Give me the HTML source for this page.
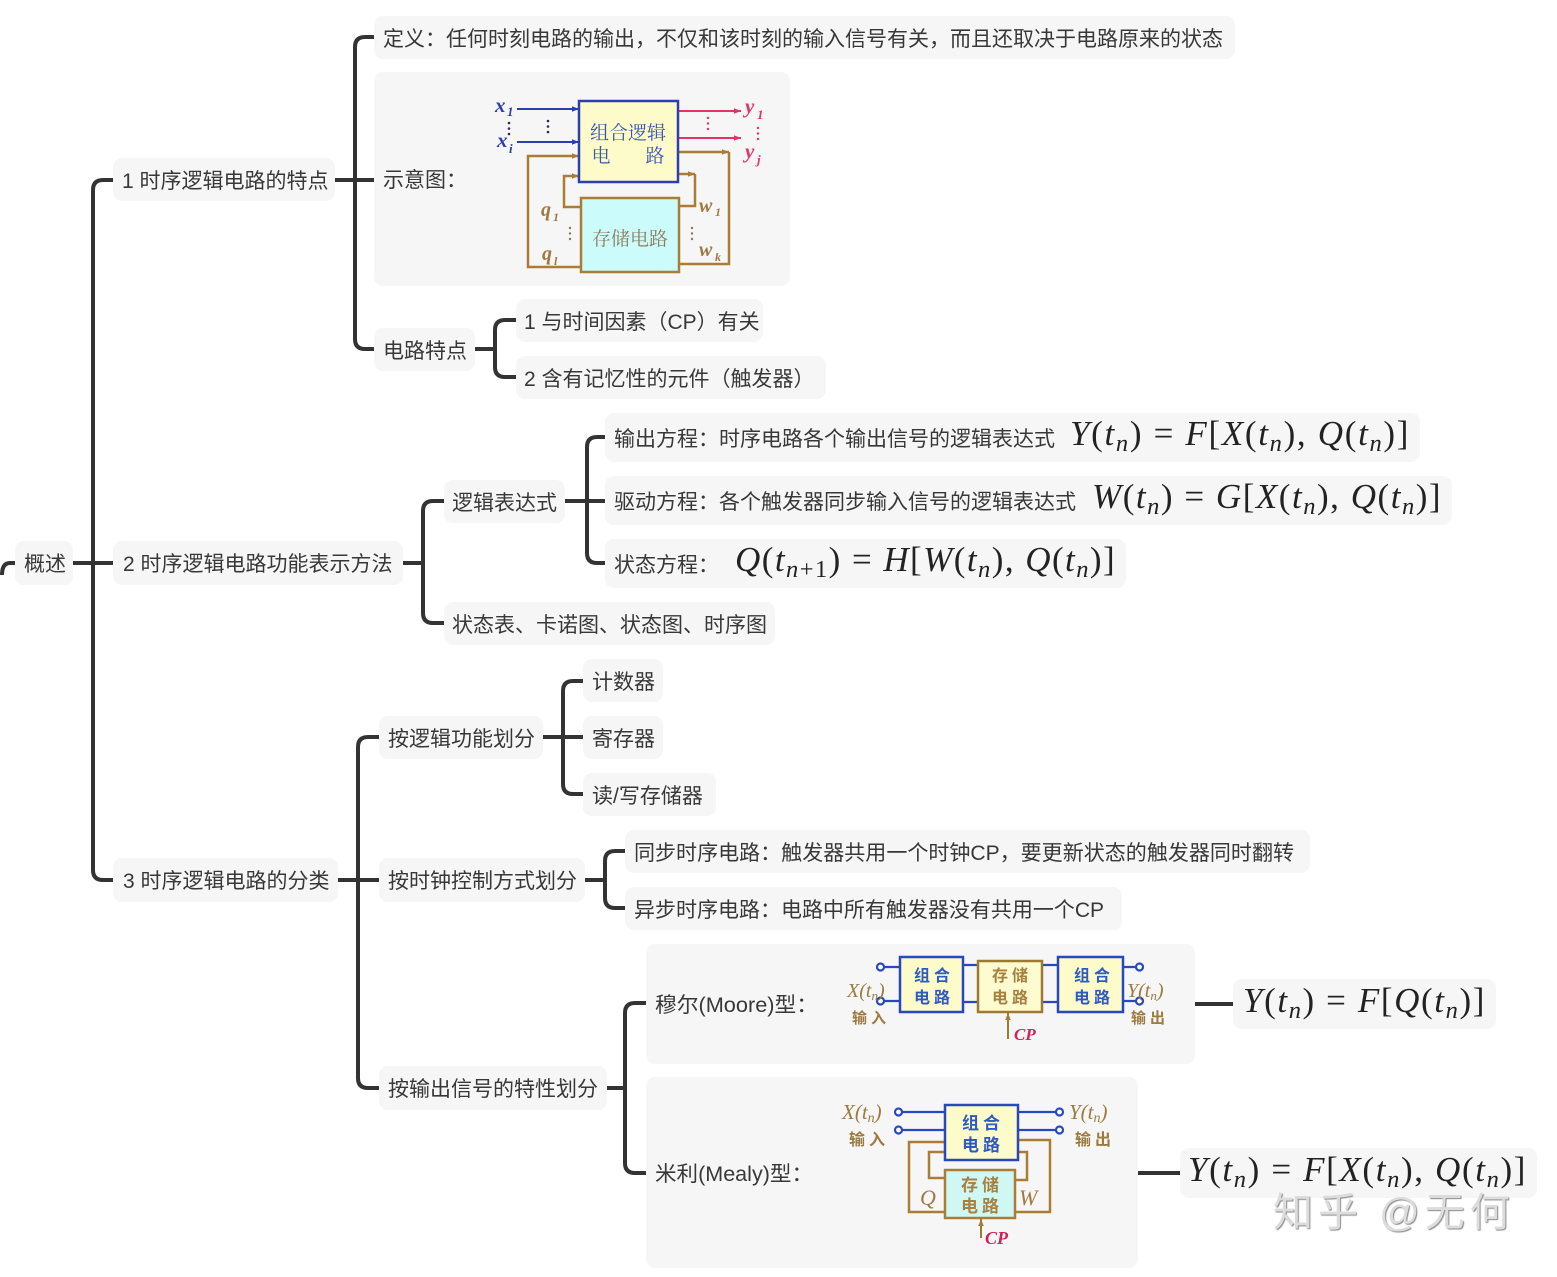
<!DOCTYPE html>
<html><head><meta charset="utf-8">
<style>
*{box-sizing:border-box}
body{margin:0;width:1557px;height:1277px;position:relative;background:#fff;overflow:hidden;font-family:"Liberation Sans","Noto Sans CJK SC",sans-serif;color:#383838}
.b{position:absolute;background:#f6f6f6;border-radius:9px;display:flex;align-items:center;padding-left:9px;font-size:21px;white-space:nowrap}
.ft{display:inline-block;transform-origin:0 50%}
.fm{position:absolute;font-family:"Liberation Serif",serif;font-size:35px;line-height:40px;white-space:nowrap;color:#222}
.fm sub{font-size:0.7em;vertical-align:-0.25em;line-height:0}
svg{position:absolute;left:0;top:0}
.wm{position:absolute;left:1273px;top:1190px;font-family:"Liberation Sans","Noto Sans CJK SC",sans-serif;font-size:40px;line-height:46px;letter-spacing:5px;color:#dcdcdc;text-shadow:1px 1px 1px #8a8a8a;white-space:nowrap}
</style></head><body>

<svg width="1557" height="1277" viewBox="0 0 1557 1277">
<g fill="none" stroke="#333" stroke-width="4">
<path d="M2 575Q2 563 10 563H15"/>
<path d="M73 563H113"/>
<path d="M113 180H103Q93 180 93 190V870Q93 880 103 880H113"/>
<path d="M335 180H374"/>
<path d="M374 37H365Q355 37 355 47V339Q355 349 365 349H374"/>
<path d="M475 349H495"/>
<path d="M516 320H505Q495 320 495 330V367Q495 377 505 377H516"/>
<path d="M403 563H423"/>
<path d="M444 501H433Q423 501 423 511V613Q423 623 433 623H444"/>
<path d="M565 501H605"/>
<path d="M605 437H597Q587 437 587 447V553Q587 563 597 563H605"/>
<path d="M338 880H379"/>
<path d="M379 737H368Q358 737 358 747V1078Q358 1088 368 1088H379"/>
<path d="M543 737H583"/>
<path d="M583 681H573Q563 681 563 691V784Q563 794 573 794H583"/>
<path d="M585 880H605"/>
<path d="M625 851H615Q605 851 605 861V898Q605 908 615 908H625"/>
<path d="M607 1088H625"/>
<path d="M646 1003H635Q625 1003 625 1013V1163Q625 1173 635 1173H646"/>
<path d="M1195 1004H1233"/>
<path d="M1138 1173H1180"/>
</g>
</svg>

<div class="b" style="left:15px;top:541px;width:58px;height:44px"><span class="ft">概述</span></div>
<div class="b" style="left:113px;top:158px;width:222px;height:43px"><span class="ft">1 时序逻辑电路的特点</span></div>
<div class="b" style="left:374px;top:16px;width:861px;height:43px"><span class="ft" style="--w:840">定义：任何时刻电路的输出，不仅和该时刻的输入信号有关，而且还取决于电路原来的状态</span></div>
<div class="b" style="left:374px;top:72px;width:416px;height:214px"><span class="ft">示意图：</span></div>
<div class="b" style="left:374px;top:328px;width:101px;height:43px"><span class="ft">电路特点</span></div>
<div class="b" style="left:516px;top:299px;width:247px;height:43px;padding-left:8px"><span class="ft">1 与时间因素（CP）有关</span></div>
<div class="b" style="left:516px;top:356px;width:310px;height:43px;padding-left:8px"><span class="ft">2 含有记忆性的元件（触发器）</span></div>
<div class="b" style="left:113px;top:541px;width:290px;height:44px;padding-left:10px"><span class="ft">2 时序逻辑电路功能表示方法</span></div>
<div class="b" style="left:444px;top:480px;width:121px;height:43px;padding-left:8px"><span class="ft">逻辑表达式</span></div>
<div class="b" style="left:444px;top:602px;width:331px;height:43px;padding-left:8px"><span class="ft">状态表、卡诺图、状态图、时序图</span></div>
<div class="b" style="left:605px;top:413px;width:815px;height:49px"><span class="ft">输出方程：时序电路各个输出信号的逻辑表达式</span></div>
<div class="b" style="left:605px;top:476px;width:847px;height:49px"><span class="ft">驱动方程：各个触发器同步输入信号的逻辑表达式</span></div>
<div class="b" style="left:605px;top:539px;width:521px;height:49px"><span class="ft">状态方程：</span></div>
<div class="b" style="left:113px;top:858px;width:225px;height:44px;padding-left:10px"><span class="ft">3 时序逻辑电路的分类</span></div>
<div class="b" style="left:379px;top:716px;width:164px;height:43px"><span class="ft">按逻辑功能划分</span></div>
<div class="b" style="left:583px;top:659px;width:80px;height:43px"><span class="ft">计数器</span></div>
<div class="b" style="left:583px;top:716px;width:80px;height:43px"><span class="ft">寄存器</span></div>
<div class="b" style="left:583px;top:773px;width:133px;height:43px"><span class="ft">读/写存储器</span></div>
<div class="b" style="left:379px;top:858px;width:206px;height:44px"><span class="ft">按时钟控制方式划分</span></div>
<div class="b" style="left:625px;top:830px;width:685px;height:43px"><span class="ft" style="--w:660">同步时序电路：触发器共用一个时钟CP，要更新状态的触发器同时翻转</span></div>
<div class="b" style="left:625px;top:887px;width:497px;height:43px"><span class="ft" style="--w:470">异步时序电路：电路中所有触发器没有共用一个CP</span></div>
<div class="b" style="left:379px;top:1066px;width:228px;height:44px"><span class="ft">按输出信号的特性划分</span></div>
<div class="b" style="left:646px;top:944px;width:549px;height:120px"><span class="ft" style="--w:163">穆尔(Moore)型：</span></div>
<div class="b" style="left:646px;top:1077px;width:492px;height:191px"><span class="ft" style="--w:158">米利(Mealy)型：</span></div>
<div class="b" style="left:1233px;top:979px;width:263px;height:50px"></div>
<div class="b" style="left:1180px;top:1148px;width:357px;height:50px"></div>

<div class="fm" style="left:1070px;top:414px;--w:340"><i>Y</i>(<i>t</i><sub><i>n</i></sub>) = <i>F</i>[<i>X</i>(<i>t</i><sub><i>n</i></sub>), <i>Q</i>(<i>t</i><sub><i>n</i></sub>)]</div>
<div class="fm" style="left:1092px;top:477px;--w:350"><i>W</i>(<i>t</i><sub><i>n</i></sub>) = <i>G</i>[<i>X</i>(<i>t</i><sub><i>n</i></sub>), <i>Q</i>(<i>t</i><sub><i>n</i></sub>)]</div>
<div class="fm" style="left:735px;top:540px;--w:381"><i>Q</i>(<i>t</i><sub><i>n</i>+1</sub>) = <i>H</i>[<i>W</i>(<i>t</i><sub><i>n</i></sub>), <i>Q</i>(<i>t</i><sub><i>n</i></sub>)]</div>
<div class="fm" style="left:1243px;top:981px;--w:243"><i>Y</i>(<i>t</i><sub><i>n</i></sub>) = <i>F</i>[<i>Q</i>(<i>t</i><sub><i>n</i></sub>)]</div>
<div class="fm" style="left:1188px;top:1150px;--w:339"><i>Y</i>(<i>t</i><sub><i>n</i></sub>) = <i>F</i>[<i>X</i>(<i>t</i><sub><i>n</i></sub>), <i>Q</i>(<i>t</i><sub><i>n</i></sub>)]</div>

<svg width="1557" height="1277" viewBox="0 0 1557 1277">
<defs>
<marker id="ab" viewBox="0 0 10 10" refX="10" refY="5" markerWidth="7" markerHeight="7" orient="auto" markerUnits="userSpaceOnUse"><path d="M0,1L10,5L0,9z" fill="#2b3eb2"/></marker>
<marker id="ap" viewBox="0 0 10 10" refX="10" refY="5" markerWidth="7" markerHeight="7" orient="auto" markerUnits="userSpaceOnUse"><path d="M0,1L10,5L0,9z" fill="#e23566"/></marker>
<marker id="aw" viewBox="0 0 10 10" refX="10" refY="5" markerWidth="7" markerHeight="7" orient="auto" markerUnits="userSpaceOnUse"><path d="M0,1L10,5L0,9z" fill="#a97d35"/></marker>
</defs>

<!-- top schematic -->
<g fill="none" stroke-width="2">
<line x1="517" y1="109" x2="579" y2="109" stroke="#2b3eb2" marker-end="url(#ab)"/>
<line x1="517" y1="142" x2="579" y2="142" stroke="#2b3eb2" marker-end="url(#ab)"/>
<line x1="678" y1="111" x2="741" y2="111" stroke="#e23566" marker-end="url(#ap)"/>
<line x1="678" y1="138" x2="741" y2="138" stroke="#e23566" marker-end="url(#ap)"/>
</g>
<g fill="none" stroke="#a97d35" stroke-width="2.5">
<path d="M581 267H528V156H579" marker-end="url(#aw)"/>
<path d="M581 207H564V176H579" marker-end="url(#aw)"/>
<path d="M678 174H695" marker-end="url(#aw)"/>
<path d="M695 174V206H679"/>
<path d="M678 152H729" marker-end="url(#aw)"/>
<path d="M729 152V264H679"/>
</g>
<rect x="579" y="101" width="99" height="81" fill="#fdfbc9" stroke="#2b3eb2" stroke-width="2.5"/>
<rect x="581" y="198" width="98" height="74" fill="#ccfbfb" stroke="#a97d35" stroke-width="2.5"/>
<g font-family="Noto Serif CJK SC,serif" font-size="19" fill="#3c56b0">
<text x="628" y="139" text-anchor="middle">组合逻辑</text>
<text x="601" y="162" text-anchor="middle">电</text>
<text x="655" y="162" text-anchor="middle">路</text>
</g>
<text x="630" y="245" text-anchor="middle" font-family="Noto Serif CJK SC,serif" font-size="19" fill="#8c7d5c">存储电路</text>
<g font-family="Liberation Serif,serif" font-weight="bold" font-style="italic">
<text x="495" y="112" font-size="21" fill="#2b3eb2">x</text><text x="507" y="116" font-size="13" fill="#2b3eb2">1</text>
<text x="497" y="147" font-size="21" fill="#2b3eb2">x</text><text x="509" y="153" font-size="13" fill="#2b3eb2">i</text>
<text x="745" y="113" font-size="21" fill="#e23566">y</text><text x="757" y="119" font-size="13" fill="#e23566">1</text>
<text x="745" y="158" font-size="21" fill="#e23566">y</text><text x="757" y="164" font-size="13" fill="#e23566">j</text>
<text x="541" y="216" font-size="20" fill="#a07840">q</text><text x="553" y="221" font-size="12" fill="#a07840">1</text>
<text x="542" y="260" font-size="20" fill="#a07840">q</text><text x="554" y="265" font-size="12" fill="#a07840">l</text>
<text x="699" y="212" font-size="20" fill="#a07840">w</text><text x="715" y="216" font-size="12" fill="#a07840">1</text>
<text x="699" y="256" font-size="20" fill="#a07840">w</text><text x="715" y="261" font-size="12" fill="#a07840">k</text>
</g>
<g fill="#2a2a50">
<circle cx="509" cy="123" r="1.3"/><circle cx="509" cy="128.5" r="1.3"/><circle cx="509" cy="134" r="1.3"/>
<circle cx="548" cy="121" r="1.3"/><circle cx="548" cy="126.5" r="1.3"/><circle cx="548" cy="132" r="1.3"/>
</g>
<g fill="#e23566">
<circle cx="708" cy="118" r="1.2"/><circle cx="708" cy="123.5" r="1.2"/><circle cx="708" cy="129" r="1.2"/>
<circle cx="758" cy="128" r="1.2"/><circle cx="758" cy="133.5" r="1.2"/><circle cx="758" cy="139" r="1.2"/>
</g>
<g fill="#8a7a5a">
<circle cx="570" cy="228" r="1.2"/><circle cx="570" cy="233.5" r="1.2"/><circle cx="570" cy="239" r="1.2"/>
<circle cx="692" cy="228" r="1.2"/><circle cx="692" cy="233.5" r="1.2"/><circle cx="692" cy="239" r="1.2"/>
</g>

<!-- Moore -->
<g stroke="#2848c0" stroke-width="2.2" fill="none">
<path d="M884 967H900M884 1001H900M963 965H978M963 1002H978M1042 965H1058M1042 1002H1058M1123 967H1136M1123 1001H1136"/>
<circle cx="880.5" cy="967" r="3.5" fill="#fff"/><circle cx="880.5" cy="1001" r="3.5" fill="#fff"/>
<circle cx="1139.5" cy="967" r="3.5" fill="#fff"/><circle cx="1139.5" cy="1001" r="3.5" fill="#fff"/>
</g>
<rect x="900" y="957" width="63" height="55" fill="#fdfbc9" stroke="#2848c0" stroke-width="2.5"/>
<rect x="978" y="961" width="64" height="51" fill="#fdfbd0" stroke="#9c7a30" stroke-width="2.5"/>
<rect x="1058" y="957" width="65" height="55" fill="#fdfbc9" stroke="#2848c0" stroke-width="2.5"/>
<g font-family="Noto Sans CJK SC,sans-serif" font-weight="bold" font-size="16" letter-spacing="4" text-anchor="middle">
<text x="934" y="981" fill="#2f5ac0">组合</text><text x="934" y="1003" fill="#2f5ac0">电路</text>
<text x="1012" y="981" fill="#a88040">存储</text><text x="1012" y="1003" fill="#a88040">电路</text>
<text x="1094" y="981" fill="#2f5ac0">组合</text><text x="1094" y="1003" fill="#2f5ac0">电路</text>
<text x="871" y="1023" fill="#9c7a40" font-size="15">输入</text>
<text x="1150" y="1023" fill="#9c7a40" font-size="15">输出</text>
</g>
<g font-family="Liberation Serif,serif" font-style="italic" fill="#9c7a40">
<text x="847" y="997" font-size="20">X(t<tspan font-size="13" dy="3">n</tspan><tspan dy="-3">)</tspan></text>
<text x="1127" y="997" font-size="20">Y(t<tspan font-size="13" dy="3">n</tspan><tspan dy="-3">)</tspan></text>
</g>
<line x1="1008" y1="1039" x2="1008" y2="1013" stroke="#9c7a30" stroke-width="2" marker-end="url(#aw)"/>
<text x="1014" y="1040" font-family="Liberation Serif,serif" font-weight="bold" font-style="italic" font-size="17" fill="#d0205a">CP</text>

<!-- Mealy -->
<g fill="none" stroke="#a97d35" stroke-width="2.5">
<path d="M945 1212H909V1142H945"/>
<path d="M945 1178H929V1152H945"/>
<path d="M1018 1152H1027V1180H1015"/>
<path d="M1018 1140H1050V1212H1015"/>
</g>
<g stroke="#2848c0" stroke-width="2.2" fill="none">
<path d="M902 1112H945M902 1130H945M1018 1112H1056M1018 1130H1056"/>
<circle cx="898.5" cy="1112" r="3.5" fill="#fff"/><circle cx="898.5" cy="1130" r="3.5" fill="#fff"/>
<circle cx="1059.5" cy="1112" r="3.5" fill="#fff"/><circle cx="1059.5" cy="1130" r="3.5" fill="#fff"/>
</g>
<rect x="945" y="1105" width="73" height="55" fill="#fdfbc9" stroke="#2848c0" stroke-width="2.5"/>
<rect x="945" y="1170" width="70" height="48" fill="#cff8f4" stroke="#a97d35" stroke-width="2.5"/>
<g font-family="Noto Sans CJK SC,sans-serif" font-weight="bold" font-size="17" letter-spacing="4" text-anchor="middle">
<text x="983" y="1129" fill="#2f5ac0">组合</text><text x="983" y="1151" fill="#2f5ac0">电路</text>
<text x="982" y="1191" fill="#a88040">存储</text><text x="982" y="1212" fill="#a88040">电路</text>
<text x="869" y="1145" fill="#9c7a40" font-size="16">输入</text>
<text x="1095" y="1145" fill="#9c7a40" font-size="16">输出</text>
</g>
<g font-family="Liberation Serif,serif" font-style="italic" fill="#9c7a40">
<text x="842" y="1119" font-size="21">X(t<tspan font-size="14" dy="3">n</tspan><tspan dy="-3">)</tspan></text>
<text x="1069" y="1119" font-size="21">Y(t<tspan font-size="14" dy="3">n</tspan><tspan dy="-3">)</tspan></text>
<text x="920" y="1205" font-size="22">Q</text>
<text x="1019" y="1205" font-size="22">W</text>
</g>
<line x1="981" y1="1238" x2="981" y2="1219" stroke="#9c7a30" stroke-width="2" marker-end="url(#aw)"/>
<text x="985" y="1244" font-family="Liberation Serif,serif" font-weight="bold" font-style="italic" font-size="18" fill="#d0205a">CP</text>
</svg>

<div class="wm">知乎 @无何</div>

<script>
(function(){
 var els=document.querySelectorAll('.ft,.fm');
 for(var i=0;i<els.length;i++){
  var e=els[i];
  var w=parseFloat(getComputedStyle(e).getPropertyValue('--w'));
  if(!w) continue;
  var n=e.getBoundingClientRect().width;
  if(!n) continue;
  if(e.classList.contains('fm')){
   var c=e.textContent.length;
   e.style.letterSpacing=((w-n)/c)+'px';
  } else {
   e.style.transform='scaleX('+(w/n)+')';
  }
 }
})();
</script>
</body></html>
